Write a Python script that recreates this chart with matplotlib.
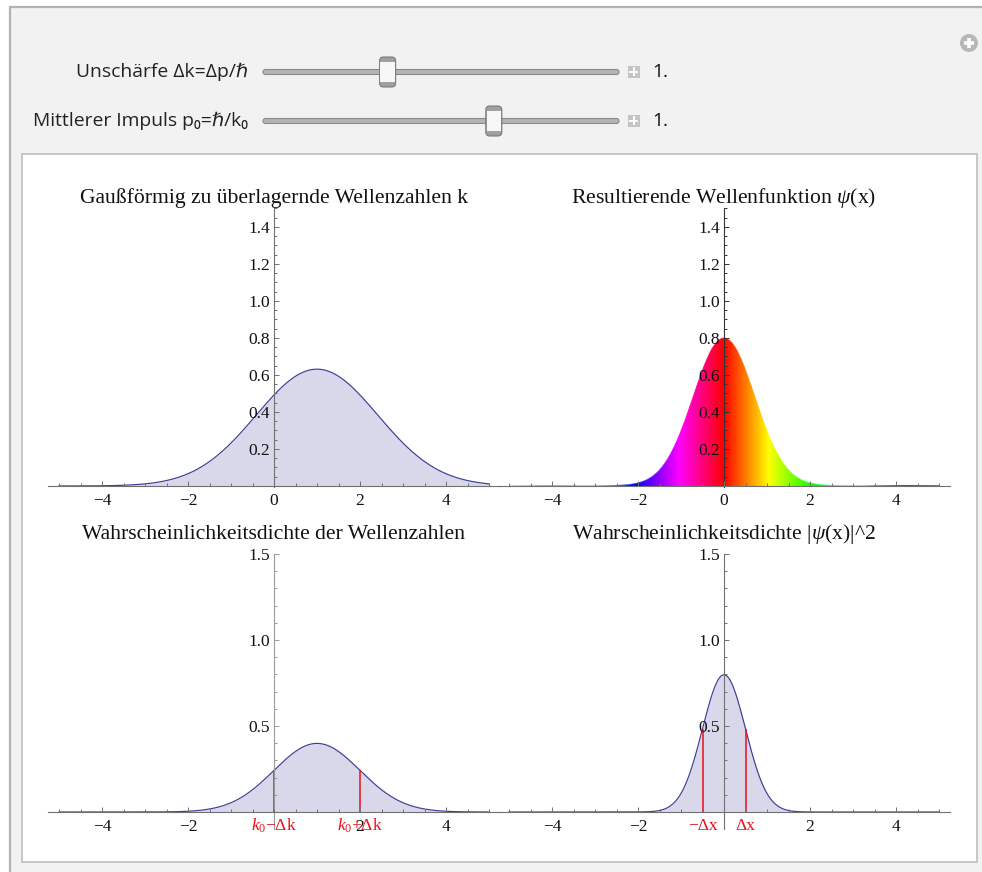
"""
Gaussian wave packet: wave-number spectrum, wave function and densities.
"""

import numpy as np
import matplotlib
matplotlib.use("Agg")
import matplotlib.pyplot as plt
from matplotlib.patches import FancyBboxPatch, Rectangle, Circle, PathPatch
from matplotlib.path import Path
from matplotlib.collections import LineCollection
from matplotlib.colors import hsv_to_rgb

# ── slider settings (hbar = 1) ──────────────────────────────────────────
delta_k = 1.0
p0 = 1.0
delta_k_range = (0.3, 2.3)
p0_range = (-1.95, 2.6)

k0 = p0
delta_x = 1.0 / (2.0 * delta_k)

x_min, x_max = -5.0, 5.0
x_major = [-4, -2, 0, 2, 4]
y_major_top = [0.2, 0.4, 0.6, 0.8, 1.0, 1.2, 1.4]
y_major_bottom = [0.5, 1.0, 1.5]

W, H = 982, 872
plt.rcParams["mathtext.fontset"] = "custom"
plt.rcParams["mathtext.rm"] = "Liberation Serif"
plt.rcParams["mathtext.it"] = "Liberation Serif:italic"
SERIF = ["Liberation Serif", "DejaVu Serif"]
SANS = ["Open Sans", "DejaVu Sans"]

LINE = "#3d3d99"
FILL = "#d8d8ea"
AXIS = "#707070"
RED = "#e8101a"

xs = np.linspace(x_min, x_max, 801)
norm_x = (2 * np.pi * delta_x**2) ** -0.5
amp_k = (2 * np.pi * delta_k**2) ** -0.25 * np.exp(-(xs - k0) ** 2 / (4 * delta_k**2))
dens_k = amp_k**2
psi_abs = norm_x * np.exp(-xs**2 / (4 * delta_x**2))
dens_x = norm_x * np.exp(-xs**2 / (2 * delta_x**2))
phase_hue = np.mod(k0 * xs / (2 * np.pi), 1.0)


def dens_k_at(k):
    return (2 * np.pi * delta_k**2) ** -0.5 * np.exp(-(k - k0) ** 2 / (2 * delta_k**2))


def dens_x_at(x):
    return norm_x * np.exp(-x**2 / (2 * delta_x**2))


fig = plt.figure(figsize=(W / 100, H / 100), dpi=100)
fig.patch.set_facecolor("white")

# ── panel background, drawn in pixel coordinates ───────────────────────
bg = fig.add_axes([0, 0, 1, 1], zorder=-10)
bg.set_xlim(0, W)
bg.set_ylim(H, 0)
bg.axis("off")
bg.add_patch(Rectangle((10, 7), 1000, 900, facecolor="#f2f2f2",
                       edgecolor="#b2b2b2", lw=1.6))
bg.add_patch(Rectangle((22, 154), 955, 708, facecolor="white",
                       edgecolor="#c6c6c6", lw=1.4))

# add-controls icon
bg.add_patch(Circle((969, 43), 9, facecolor="#b8b8b8", edgecolor="none"))
bg.plot([964, 974], [43, 43], color="white", lw=2.6, solid_capstyle="butt")
bg.plot([969, 969], [38, 48], color="white", lw=2.6, solid_capstyle="butt")


def slider(y, label, value, vrange):
    track_l, track_r = 263, 619
    bg.add_patch(FancyBboxPatch((track_l, y - 2.5), track_r - track_l, 5,
                                boxstyle="round,pad=0,rounding_size=2.5",
                                facecolor="#b4b4b4", edgecolor="#8a8a8a", lw=0.8))
    frac = (value - vrange[0]) / (vrange[1] - vrange[0])
    tx = track_l + frac * (track_r - track_l)
    bg.add_patch(FancyBboxPatch((tx - 8, y - 15), 16, 30,
                                boxstyle="round,pad=0,rounding_size=4",
                                facecolor="#a0a0a0", edgecolor="#7a7a7a", lw=0.8))
    bg.add_patch(Rectangle((tx - 7.3, y - 10), 14.6, 20, facecolor="#f7f7f7",
                           edgecolor="none"))
    bg.text(248, y, label, ha="right", va="center", fontsize=13.9,
            family=SANS, color="#222222")
    # step button and current value
    bg.add_patch(Rectangle((628, y - 6), 12, 12, facecolor="#c4c4c4", edgecolor="none"))
    bg.plot([630.5, 637.5], [y, y], color="white", lw=1.4)
    bg.plot([634, 634], [y - 3.5, y + 3.5], color="white", lw=1.4)
    bg.text(652, y, f"{value:.0f}.", ha="left", va="center", fontsize=13.9,
            family=SANS, color="#111111")


slider(72, "Unschärfe Δk=Δp/ℏ", delta_k, delta_k_range)
slider(121, "Mittlerer Impuls p₀=ℏ/k₀", p0, p0_range)


# ── plot axes ───────────────────────────────────────────────────────────
PX_X = 43.0


def make_axes(x0_px, base_px, px_per_y, y_lo, y_hi, y_major, y_minor_step, zero_label,
              axis_color=AXIS):
    left = x0_px - 5.25 * PX_X
    width = 10.5 * PX_X
    bottom_px = base_px - y_lo * px_per_y
    height = (y_hi - y_lo) * px_per_y
    ax = fig.add_axes([left / W, 1 - bottom_px / H, width / W, height / H])
    ax.set_xlim(-5.25, 5.25)
    ax.set_ylim(y_lo, y_hi)
    ax.patch.set_alpha(0)
    for s in ("top", "right"):
        ax.spines[s].set_visible(False)
    for s in ("left", "bottom"):
        ax.spines[s].set_position(("data", 0))
        ax.spines[s].set_color(AXIS)
        ax.spines[s].set_linewidth(0.8)
        ax.spines[s].set_zorder(5)
    ax.spines["left"].set_color(axis_color)
    ax.xaxis.set_zorder(6)
    ax.yaxis.set_zorder(6)
    ax.set_xticks(x_major if zero_label else [v for v in x_major if v != 0])
    ax.set_xticks(np.arange(-5, 5.01, 0.5), minor=True)
    ax.set_yticks(y_major)
    ax.set_yticks(np.arange(y_minor_step, y_hi + 1e-9, y_minor_step), minor=True)
    ax.set_xticklabels(["−" + str(abs(v)) if v < 0 else str(v) for v in ax.get_xticks()])
    ax.set_yticklabels([f"{v:.1f}" for v in y_major])
    ax.tick_params(which="both", direction="in", color=AXIS, width=0.7,
                   labelsize=12.5, labelcolor="#111111")
    ax.tick_params(axis="y", which="both", color=axis_color)
    ax.tick_params(which="major", length=3.3)
    ax.tick_params(which="minor", length=1.9)
    ax.tick_params(axis="x", pad=5)
    ax.tick_params(axis="y", pad=3)
    for lab in ax.get_xticklabels() + ax.get_yticklabels():
        lab.set_family(SERIF)
    return ax


def title(cx, base_y, text):
    fig.text(cx / W, 1 - base_y / H, text, ha="center", va="baseline",
             fontsize=15.6, family=SERIF, color="#111111")


# top left: gaussian weights of the wave numbers
ax1 = make_axes(274, 486, 185.0, -0.008, 1.5, y_major_top, 0.05, True)
ax1.fill_between(xs, 0, amp_k, color=FILL, lw=0, zorder=2)
ax1.plot(xs, amp_k, color=LINE, lw=0.85, zorder=3)
title(274, 203, "Gaußförmig zu überlagernde Wellenzahlen k")

# top right: resulting wave function, coloured by its phase
ax2 = make_axes(724, 486, 185.0, -0.008, 1.5, y_major_top, 0.05, True,
                axis_color="#333333")
hue_img = hsv_to_rgb(np.stack([phase_hue, np.ones_like(xs), np.ones_like(xs)], axis=-1))
im = ax2.imshow(np.repeat(hue_img[None, :, :], 2, axis=0), extent=(x_min, x_max, 0, 1.5),
                origin="lower", aspect="auto", interpolation="bilinear", zorder=2)
verts = np.concatenate([[[x_min, 0]], np.column_stack([xs, psi_abs]), [[x_max, 0]], [[x_min, 0]]])
clip = PathPatch(Path(verts, closed=True), transform=ax2.transData, facecolor="none",
                 edgecolor="none")
ax2.add_patch(clip)
im.set_clip_path(clip)
pts = np.column_stack([xs, psi_abs]).reshape(-1, 1, 2)
segs = np.concatenate([pts[:-1], pts[1:]], axis=1)
lc = LineCollection(segs, colors=hue_img[:-1], linewidths=1.1, zorder=3)
ax2.add_collection(lc)
ax2.set_xlim(-5.25, 5.25)
ax2.set_ylim(-0.008, 1.5)
title(724, 203, r"Resultierende Wellenfunktion $\psi$(x)")

# bottom left: probability density of the wave numbers
ax3 = make_axes(274, 812, 172.0, -0.1, 1.5, y_major_bottom, 0.1, False,
                axis_color="#9a9a9a")
ax3.fill_between(xs, 0, dens_k, color=FILL, lw=0, zorder=2)
ax3.plot(xs, dens_k, color=LINE, lw=0.85, zorder=3)
for kk, lab in [(k0 - delta_k, r"$k_0$−Δk"), (k0 + delta_k, r"$k_0$+Δk")]:
    ax3.vlines(kk, 0, dens_k_at(kk), color=RED, lw=1.1, zorder=4)
    ax3.annotate(lab, (kk, 0), xytext=(0, -10), textcoords="offset points",
                 ha="center", va="center", color=RED, fontsize=12.5,
                 family=SERIF, zorder=7)
title(274, 539, "Wahrscheinlichkeitsdichte der Wellenzahlen")

# bottom right: probability density in position space
ax4 = make_axes(724, 812, 172.0, -0.1, 1.5, y_major_bottom, 0.1, False)
ax4.fill_between(xs, 0, dens_x, color=FILL, lw=0, zorder=2)
ax4.plot(xs, dens_x, color=LINE, lw=0.85, zorder=3)
for xx, lab in [(-delta_x, "−Δx"), (delta_x, "Δx")]:
    ax4.vlines(xx, 0, dens_x_at(xx), color=RED, lw=1.1, zorder=4)
    ax4.annotate(lab, (xx, 0), xytext=(0, -10), textcoords="offset points",
                 ha="center", va="center", color=RED, fontsize=12.5,
                 family=SERIF, zorder=7)
title(724, 539, r"Wahrscheinlichkeitsdichte |$\psi$(x)|^2")

fig.savefig("out.png", dpi=100)
plt.close(fig)
